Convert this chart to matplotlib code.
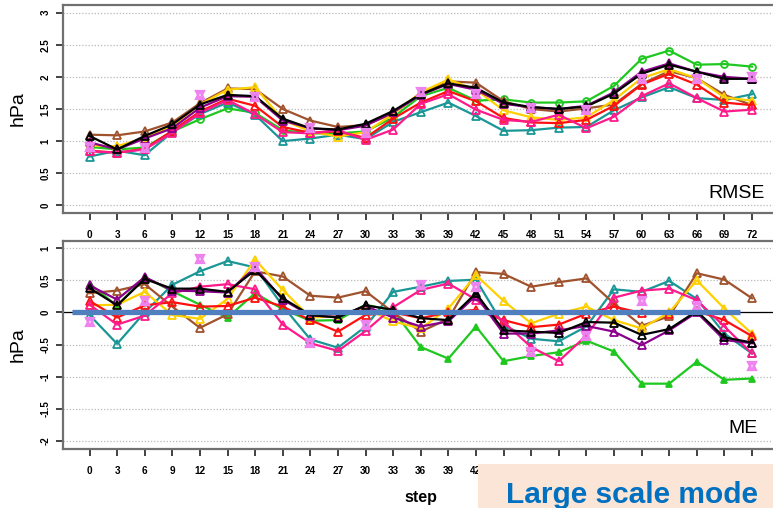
import matplotlib.pyplot as plt
import numpy as np

plt.rcParams['font.family'] = ['Liberation Sans', 'DejaVu Sans']

steps = list(range(0, 73, 3))
nan = np.nan

# RMSE (hPa)
rmse_green  = [0.91, 0.87, 0.90, 1.15, 1.34, 1.51, 1.44, 1.17, 1.12, 1.12, 1.15, 1.37, 1.70,
               1.83, 1.63, 1.65, 1.60, 1.60, 1.62, 1.86, 2.28, 2.41, 2.19, 2.20, 2.16]
rmse_teal   = [0.76, 0.85, 0.78, 1.14, 1.42, 1.60, 1.41, 1.00, 1.04, 1.10, 1.03, 1.30, 1.45,
               1.60, 1.39, 1.16, 1.17, 1.21, 1.22, 1.48, 1.68, 1.84, 1.67, 1.64, 1.73]
rmse_brown  = [1.10, 1.09, 1.15, 1.29, 1.59, 1.82, 1.81, 1.50, 1.32, 1.22, 1.25, 1.43, 1.74,
               1.93, 1.91, 1.62, 1.50, 1.46, 1.51, 1.57, 1.89, 2.09, 1.98, 1.72, 1.56]
rmse_yellow = [0.93, 0.92, 1.05, 1.24, 1.57, 1.80, 1.84, 1.33, 1.15, 1.07, 1.14, 1.42, 1.76,
               1.96, 1.80, 1.48, 1.37, 1.33, 1.37, 1.64, 1.98, 2.12, 1.98, 1.68, 1.63]
rmse_red    = [0.85, 0.82, 0.88, 1.16, 1.46, 1.66, 1.55, 1.22, 1.13, 1.15, 1.05, 1.35, 1.60,
               1.78, 1.62, 1.36, 1.29, 1.28, 1.33, 1.55, 1.88, 2.05, 1.88, 1.60, 1.56]
rmse_pink   = [0.84, 0.82, 0.87, 1.13, 1.44, 1.64, 1.42, 1.14, 1.12, 1.17, 1.02, 1.18, 1.58,
               1.73, 1.49, 1.33, 1.30, 1.41, 1.20, 1.38, 1.70, 1.90, 1.67, 1.46, 1.49]
rmse_purple = [0.98, 0.87, 1.04, 1.20, 1.52, 1.70, 1.69, 1.32, 1.20, 1.17, 1.24, 1.45, 1.72,
               1.89, 1.80, 1.58, 1.53, 1.50, 1.55, 1.76, 2.08, 2.21, 2.08, 2.00, 1.97]
rmse_black  = [1.08, 0.87, 1.08, 1.26, 1.57, 1.72, 1.70, 1.35, 1.20, 1.18, 1.27, 1.47, 1.73,
               1.90, 1.83, 1.60, 1.53, 1.50, 1.54, 1.74, 2.05, 2.19, 2.08, 1.97, 1.97]
rmse_violet = [0.91, nan, 0.90, nan, 1.72, nan, 1.68, nan, 1.21, nan, 1.13, nan, 1.76,
               nan, 1.73, nan, 1.52, nan, 1.48, nan, 1.96, nan, 1.97, nan, 2.00]

# ME (hPa)
me_green  = [0.45, 0.10, 0.55, 0.33, 0.12, -0.08, 0.30, 0.05, -0.13, -0.12, 0.12, 0.03, -0.54,
             -0.72, -0.22, -0.76, -0.68, -0.62, -0.44, -0.61, -1.11, -1.11, -0.77, -1.05, -1.03]
me_teal   = [-0.04, -0.49, 0.00, 0.43, 0.64, 0.80, 0.70, 0.10, -0.42, -0.55, -0.22, 0.32, 0.40,
             0.49, 0.51, -0.20, -0.41, -0.45, -0.22, 0.36, 0.32, 0.49, 0.21, -0.33, -0.64]
me_brown  = [0.30, 0.34, 0.44, 0.09, -0.24, -0.03, 0.64, 0.56, 0.26, 0.23, 0.33, 0.00, -0.30,
             -0.10, 0.63, 0.60, 0.40, 0.47, 0.53, 0.14, -0.21, -0.06, 0.61, 0.51, 0.22]
me_yellow = [0.11, 0.12, 0.32, -0.04, -0.10, 0.21, 0.82, 0.35, -0.08, -0.06, 0.06, -0.14, -0.25,
             0.06, 0.58, 0.18, -0.17, -0.02, 0.09, -0.12, -0.25, 0.00, 0.50, 0.06, -0.33]
me_red    = [0.18, -0.08, 0.11, 0.16, 0.09, 0.10, 0.23, 0.09, -0.12, -0.30, -0.04, 0.00, -0.09,
             0.00, 0.04, -0.12, -0.23, -0.19, -0.02, 0.09, -0.01, -0.02, 0.02, -0.12, -0.37]
me_pink   = [0.12, -0.19, -0.05, 0.30, 0.40, 0.44, 0.36, -0.19, -0.48, -0.60, -0.29, 0.08, 0.35,
             0.45, 0.20, -0.15, -0.54, -0.76, -0.36, 0.23, 0.34, 0.37, 0.19, -0.22, -0.64]
me_purple = [0.42, 0.20, 0.55, 0.34, 0.33, 0.31, 0.70, 0.20, -0.05, -0.07, 0.10, -0.08, -0.22,
             -0.14, 0.26, -0.33, -0.33, -0.28, -0.21, -0.30, -0.51, -0.28, 0.00, -0.43, -0.48]
me_black  = [0.38, 0.11, 0.52, 0.37, 0.37, 0.32, 0.66, 0.22, -0.04, -0.08, 0.11, 0.04, -0.09,
             -0.12, 0.30, -0.28, -0.30, -0.32, -0.15, -0.16, -0.35, -0.26, 0.02, -0.39, -0.47]
me_violet = [-0.15, nan, 0.17, nan, 0.83, nan, 0.70, nan, -0.48, nan, -0.19, nan, 0.42,
             nan, 0.40, nan, -0.62, nan, -0.36, nan, 0.18, nan, 0.10, nan, -0.84]

GREEN, TEAL, BROWN, YELLOW = '#1ec81e', '#1a9696', '#a0522d', '#ffd000'
RED, PINK, PURPLE, VIOLET = '#ff1010', '#ff1a8c', '#8b008b', '#ee82ee'

W, H = 773, 508
fig = plt.figure(figsize=(W / 100, H / 100), dpi=100)

# axes extend past the right edge of the picture, like the cropped original
ax_l, ax_w = 63 / W, 715.5 / W
ax1 = fig.add_axes([ax_l, (H - 213) / H, ax_w, 208 / H])
ax2 = fig.add_axes([ax_l, (H - 448.5) / H, ax_w, 208 / H])


def series(ax, y, col, marker='^', mfc='none', ms=5.5, z=3):
    ax.plot(steps, y, color=col, lw=1.6, marker=marker, ms=ms, mfc=mfc,
            mec=col, mew=1.3, zorder=z)


def violet(ax, y):
    for m in ['^', 'v']:
        ax.plot(steps, y, ls='none', marker=m, ms=5.5, mfc='none', mec=VIOLET,
                mew=1.6, zorder=6)


# RMSE panel
series(ax1, rmse_green, GREEN, marker='o', ms=5)
series(ax1, rmse_teal, TEAL)
series(ax1, rmse_brown, BROWN)
series(ax1, rmse_yellow, YELLOW)
series(ax1, rmse_red, RED)
series(ax1, rmse_pink, PINK)
series(ax1, rmse_purple, PURPLE)
series(ax1, rmse_black, 'black')
violet(ax1, rmse_violet)

# ME panel
ax2.axhline(0, color='black', lw=0.9, zorder=2)
series(ax2, me_green, GREEN, mfc=GREEN, ms=4)
series(ax2, me_teal, TEAL)
series(ax2, me_brown, BROWN)
series(ax2, me_yellow, YELLOW)
series(ax2, me_red, RED)
series(ax2, me_pink, PINK)
series(ax2, me_purple, PURPLE)
series(ax2, me_black, 'black')
violet(ax2, me_violet)
ax2.axhline(0, xmin=(72 - 63) / 715.5, xmax=(740 - 63) / 715.5,
            color='#4f7fbf', lw=3.8, zorder=8, solid_capstyle='butt')

for ax, lo, hi, yt, yl in [(ax1, 0, 3, [0, 0.5, 1, 1.5, 2, 2.5, 3], ['0', '0.5', '1', '1.5', '2', '2.5', '3']),
                           (ax2, -2, 1, [-2, -1.5, -1, -0.5, 0, 0.5, 1], ['-2', '-1.5', '-1', '-0.5', '0', '0.5', '1'])]:
    pad = (hi - lo) * 0.04
    ax.set_ylim(lo - pad, hi + pad)
    ax.set_xlim(-2.88, 74.88)
    ax.set_yticks(yt)
    ax.set_yticklabels(yl, rotation=90, va='center', fontsize=7, fontweight='bold')
    ax.set_xticks(steps)
    ax.set_xticklabels([str(s) for s in steps], fontsize=7.2, fontweight='bold')
    ax.tick_params(length=5, width=1.3, pad=4, color='#333333')
    ax.tick_params(axis='x', pad=7.5)
    for y in yt:
        ax.axhline(y, color='#b8b8b8', lw=0.9, ls=(0, (1, 1.5)), zorder=1)
    for s in ax.spines.values():
        s.set_color('#707070')
        s.set_linewidth(1.6)
    ax.set_ylabel('hPa', fontsize=14, labelpad=10)

ax1.text(0.942, 0.096, 'RMSE', transform=ax1.transAxes, fontsize=14,
         ha='center', va='center')
ax2.text(0.950, 0.094, 'ME', transform=ax2.transAxes, fontsize=14,
         ha='center', va='center')
ax2.set_xlabel('step', fontsize=11.5, fontweight='bold', labelpad=10)

# peach caption box at the bottom right
fig.patches.append(plt.Rectangle((478 / W, 0), (W - 478) / W, 44 / H,
                                 transform=fig.transFigure, facecolor='#fbe5d6',
                                 edgecolor='none', zorder=20))
fig.text(506 / W, 5 / H, 'Large scale mode', color='#0070c0', fontsize=21.5,
         fontweight='bold', ha='left', va='baseline', zorder=21)

fig.savefig('out.png', dpi=100, facecolor='white')
